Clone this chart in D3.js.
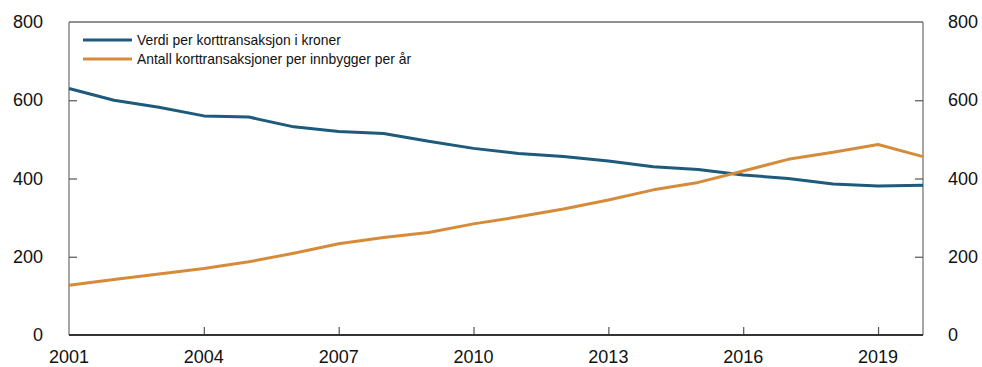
<!DOCTYPE html>
<html>
<head>
<meta charset="utf-8">
<script src="https://cdn.jsdelivr.net/npm/d3@7"></script>
<style>
  body { margin: 0; background: #fff; }
  svg { display: block; font-family: "Liberation Sans", Arial, sans-serif; }
</style>
</head>
<body>
<div id="chart"></div>
<script>
// data
var years = d3.range(2001, 2021);
var verdi = [630, 600, 582, 560, 557, 532, 520, 515, 495, 477, 464, 456, 445, 430, 423, 409, 400, 386, 381, 383];
var antall = [127, 142, 156, 170, 187, 209, 233, 249, 262, 284, 302, 322, 345, 371, 390, 419, 449, 467, 487, 456];
var xTicks = [2001, 2004, 2007, 2010, 2013, 2016, 2019];
var yTicks = [0, 200, 400, 600, 800];
var seriesNames = ['Verdi per korttransaksjon i kroner', 'Antall korttransaksjoner per innbygger per år'];
var colors = ['#1d5a7b', '#d68b3b'];

var width = 982, height = 367;
// plot edges (note: "top" is reserved on window, so use plot* names)
var plotLeft = 69, plotRight = 923, plotTop = 22, plotBottom = 335;

var svg = d3.select('#chart').append('svg')
	.attr('width', width)
	.attr('height', height);

var x = d3.scaleLinear().domain([2001, 2020]).range([plotLeft, plotRight]);
var y = d3.scaleLinear().domain([0, 800]).range([plotBottom, plotTop]);

// frame
svg.append('line').attr('x1', plotLeft).attr('x2', plotRight).attr('y1', plotTop).attr('y2', plotTop)
	.attr('stroke', '#222').attr('stroke-width', 1);
svg.append('line').attr('x1', plotLeft).attr('x2', plotLeft).attr('y1', plotTop).attr('y2', plotBottom)
	.attr('stroke', '#777').attr('stroke-width', 1.3);
svg.append('line').attr('x1', plotRight).attr('x2', plotRight).attr('y1', plotTop).attr('y2', plotBottom)
	.attr('stroke', '#777').attr('stroke-width', 1.3);

// left and right y axes, ticks pointing inward
var yLeft = svg.append('g').attr('transform', 'translate(' + plotLeft + ',0)')
	.call(d3.axisRight(y).tickValues(yTicks.slice(1, 4)).tickSize(8).tickFormat(''));
var yRight = svg.append('g').attr('transform', 'translate(' + plotRight + ',0)')
	.call(d3.axisLeft(y).tickValues(yTicks.slice(1, 4)).tickSize(8).tickFormat(''));
[yLeft, yRight].forEach(function(g){
	g.select('.domain').remove();
	g.selectAll('line').attr('stroke', '#555').attr('stroke-width', 1.2);
});

svg.selectAll('.ylabL').data(yTicks).enter().append('text')
	.attr('x', 43).attr('y', function(d){ return y(d) + 6; })
	.attr('text-anchor', 'end').attr('font-size', 18).attr('fill', '#111')
	.text(function(d){ return d; });
svg.selectAll('.ylabR').data(yTicks).enter().append('text')
	.attr('x', 948).attr('y', function(d){ return y(d) + 6; })
	.attr('text-anchor', 'start').attr('font-size', 18).attr('fill', '#111')
	.text(function(d){ return d; });

// x axis
var xAxis = svg.append('g').attr('transform', 'translate(0,' + plotBottom + ')')
	.call(d3.axisTop(x).tickValues(xTicks.slice(1)).tickSize(8).tickFormat(''));
xAxis.select('.domain').remove();
xAxis.selectAll('line').attr('stroke', '#555').attr('stroke-width', 1.2);
svg.append('line').attr('x1', plotLeft).attr('x2', plotRight).attr('y1', plotBottom).attr('y2', plotBottom)
	.attr('stroke', '#333').attr('stroke-width', 2);

svg.selectAll('.xlab').data(xTicks).enter().append('text')
	.attr('x', function(d){ return x(d); }).attr('y', 363)
	.attr('text-anchor', 'middle').attr('font-size', 18).attr('fill', '#111')
	.text(function(d){ return d; });

// lines
var line = d3.line()
	.x(function(d, i){ return x(years[i]); })
	.y(function(d){ return y(d); });

[verdi, antall].forEach(function(s, i){
	svg.append('path').datum(s)
		.attr('d', line)
		.attr('fill', 'none')
		.attr('stroke', colors[i])
		.attr('stroke-width', 3)
		.attr('stroke-linejoin', 'round');
});

// legend
var legend = svg.append('g');
seriesNames.forEach(function(name, i){
	var ly = 40 + i * 19;
	legend.append('line').attr('x1', 83).attr('x2', 132).attr('y1', ly).attr('y2', ly)
		.attr('stroke', colors[i]).attr('stroke-width', 3);
	legend.append('text').attr('x', 137).attr('y', ly + 5)
		.attr('font-size', 13.9).attr('fill', '#111')
		.text(name);
});
</script>
</body>
</html>
